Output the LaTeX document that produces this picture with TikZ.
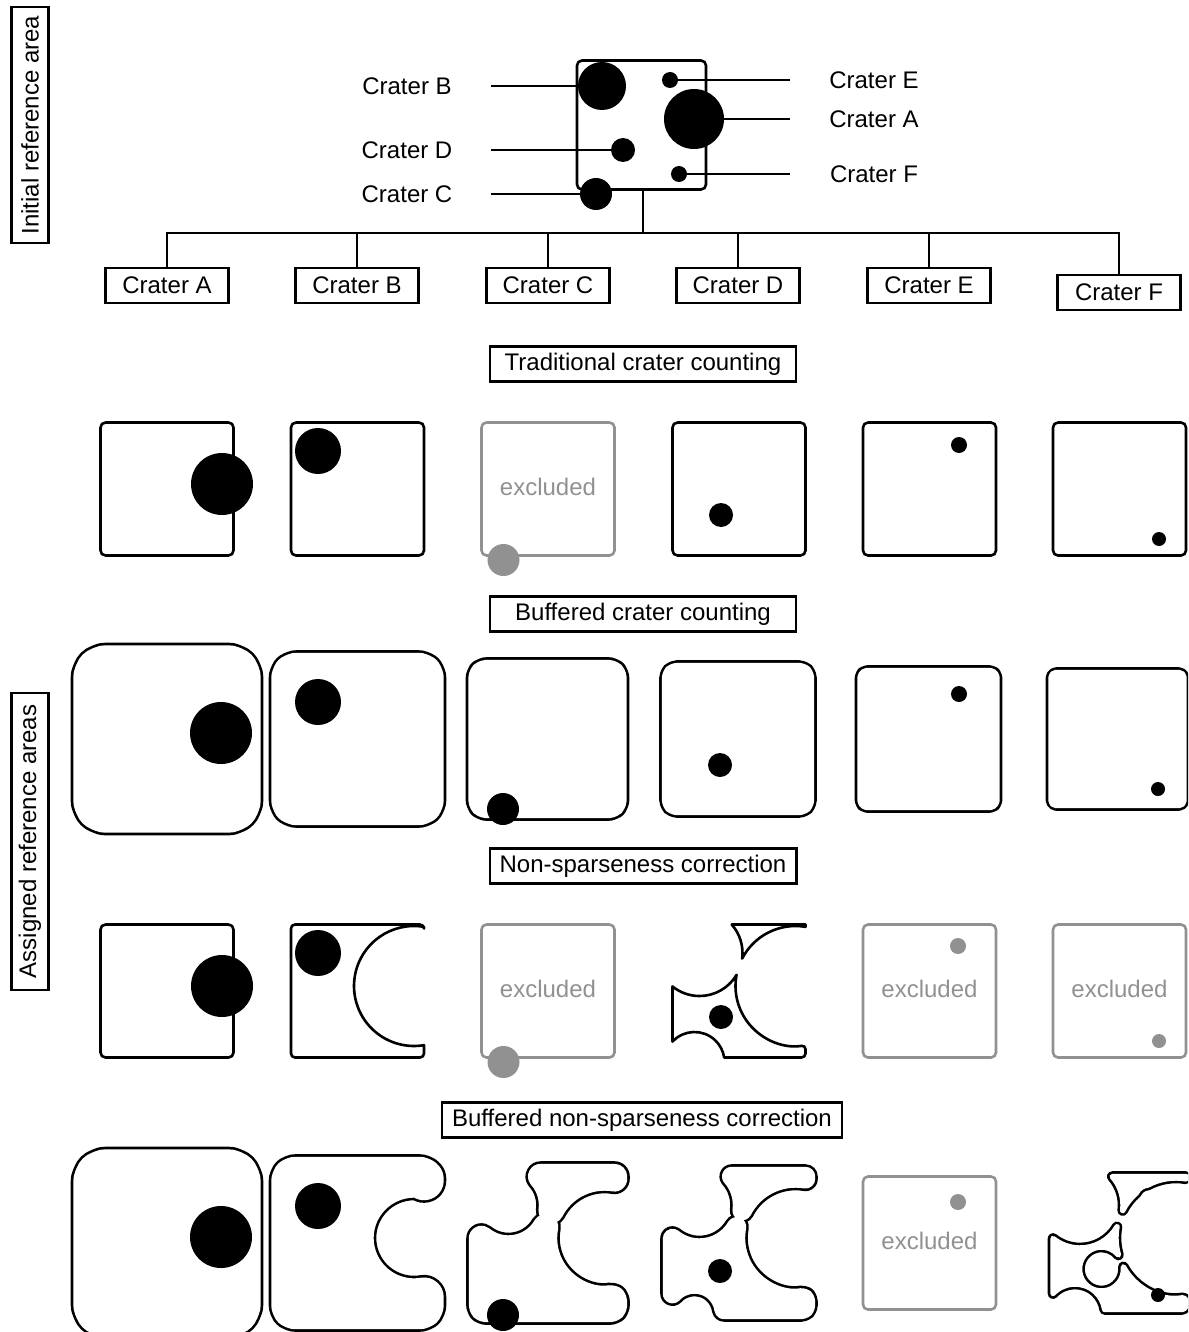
\documentclass[tikz,border=0pt]{standalone}
\usepackage{fontspec}
\setmainfont{Liberation Sans}
\usetikzlibrary{positioning,calc}
\definecolor{exgray}{RGB}{145,145,145}

% outlines of the assigned areas (square minus exclusion circles)
\def\pathB{(-66.5,0) [rounded corners=4] -- (-66.5,-66.5) -- (66.5,-66.5) [sharp corners] -- (66.5,-64.16) arc[start angle=-80.41,end angle=-279.59,radius=60] [rounded corners=4] -- (66.5,66.5) -- (-66.5,66.5) -- cycle}
\def\pathUp{(-7.3,-66.5) -- (66.5,-66.5) -- (66.5,-64.16) arc[start angle=-80.41,end angle=-152.8,radius=60] arc[start angle=7.44,end angle=-41.5,radius=43] -- cycle}
\def\pathUpE{(-7.3,-66.5) -- (66.5,-66.5) -- (66.5,-64.16) arc[start angle=-80.41,end angle=-118.1,radius=60] arc[start angle=-95.2,end angle=-154.2,radius=14] arc[start angle=-131.3,end angle=-152.8,radius=60] arc[start angle=7.44,end angle=-41.5,radius=43] -- cycle}
\def\pathLowC{(-66.5,-4.53) [rounded corners=4] -- (-66.5,66.5) -- (66.5,66.5) -- (66.5,54.16) [sharp corners] arc[start angle=80.41,end angle=190.73,radius=60] arc[start angle=30.5,end angle=128.9,radius=43] -- cycle}
\def\pathLowD{(-66.5,-4.53) -- (-66.5,50.6) arc[start angle=-137.16,end angle=-8.63,radius=30] [rounded corners=4] -- (66.5,66.5) -- (66.5,54.16) [sharp corners] arc[start angle=80.41,end angle=190.73,radius=60] arc[start angle=30.5,end angle=128.9,radius=43] -- cycle}
\def\pathLowF{(-66.5,-4.53) -- (-66.5,50.6) arc[start angle=-137.16,end angle=-8.63,radius=30] [rounded corners=4] -- (66.5,66.5) -- (66.5,54.16) [sharp corners] arc[start angle=80.41,end angle=151.3,radius=60] arc[start angle=-5.7,end angle=320.5,radius=22] arc[start angle=163.5,end angle=190.73,radius=60] arc[start angle=30.5,end angle=128.9,radius=43] -- cycle}

% outline of a shape grown by a buffer
\newcommand\bufring[2]{%
  \filldraw[line width=2*#1pt+2.6pt,line join=round] #2;
  \filldraw[white,line width=2*#1pt-2.6pt,line join=round] #2;
}
\newcommand\exsq[6]{%
  \draw[refsq,draw=exgray,rounded corners=5,shift={(#1,#2)}] (-66.5,-66.5) rectangle (66.5,66.5);
  \fill[exgray,shift={(#1,#2)}] (#3,#4) circle (#5);
  \node[lbl,text=exgray] (#6) at (#1,#2-2) {excluded};
}

\begin{document}
\begin{tikzpicture}[x=1pt,y=-1pt,
  lbl/.style={font=\fontsize{24}{28}\selectfont},
  namebox/.style={lbl,draw,line width=2.2pt,minimum width=123pt,minimum height=35pt,inner sep=0pt},
  titlebox/.style={lbl,draw,line width=2.2pt,minimum width=306pt,minimum height=35pt,inner xsep=10pt,inner ysep=0pt},
  sidebox/.style={lbl,draw,line width=2.2pt,rotate=90,minimum height=37pt,inner sep=0pt},
  crater/.style={circle,fill=black,inner sep=0pt},
  lead/.style={line width=1.6pt},
  refsq/.style={line width=2.6pt,line join=round}]
\useasboundingbox (0,0) rectangle (1188,1332);
\clip (0,0) rectangle (1188,1332);

\node[sidebox,minimum width=236pt] (sInit) at (30,125) {Initial reference area};
\node[sidebox,minimum width=297pt] (sAssign) at (30,841.5) {Assigned reference areas};

% initial reference area
\node[draw,refsq,rounded corners=5,minimum size=129pt,inner sep=0pt] (irb) at (641.5,125) {};
\node[lbl,minimum width=168pt] (lB) at (407,86) {Crater B};
\node[lbl,minimum width=168pt] (lD) at (407,150) {Crater D};
\node[lbl,minimum width=168pt] (lC) at (407,194) {Crater C};
\node[lbl,minimum width=168pt] (lE) at (874,80) {Crater E};
\node[lbl,minimum width=168pt] (lA) at (874,119) {Crater A};
\node[lbl,minimum width=168pt] (lF) at (874,174) {Crater F};
\coordinate (hB) at (602,86);
\coordinate (hE) at (670,80);
\coordinate (hA) at (694,119);
\coordinate (hD) at (623,150);
\coordinate (hF) at (679,174);
\coordinate (hC) at (596,194);
\foreach \s/\n in {lB/hB,lD/hD,lC/hC}
  \draw[lead] (\s.east) -- (\n);
\foreach \s/\n in {lE/hE,lA/hA,lF/hF}
  \draw[lead] (\s.west) -- (\n);
\node[crater,minimum size=48pt] (cB) at (hB) {};
\node[crater,minimum size=16pt] (cE) at (hE) {};
\node[crater,minimum size=60pt] (cA) at (hA) {};
\node[crater,minimum size=24pt] (cD) at (hD) {};
\node[crater,minimum size=16pt] (cF) at (hF) {};
\node[crater,minimum size=32pt] (cC) at (hC) {};

\coordinate (hub) at ([xshift=1.5pt,yshift=-42pt]irb.south);
\node[namebox] (nA) at (167,285.5) {Crater A};
\node[namebox] (nB) at (357,285.5) {Crater B};
\node[namebox] (nC) at (548,285.5) {Crater C};
\node[namebox] (nD) at (738,285.5) {Crater D};
\node[namebox] (nE) at (929,285.5) {Crater E};
\node[namebox] (nF) at (1119,292.5) {Crater F};
\draw[lead] (hub |- irb.south) -- (hub);
\foreach \n in {nA,nB,nC,nD,nE,nF}
  \draw[lead] (hub) -| (\n.north);

\node[titlebox] (t1) at (643,364) {Traditional crater counting};
\node[titlebox] (t2) at (643,614) {Buffered crater counting};
\node[titlebox] (t3) at (643,866) {Non-sparseness correction};
\node[titlebox] (t4) at (642,1120) {Buffered non-sparseness correction};

% traditional
\foreach \x/\cx/\cy/\rad in {167/55/-5/31,357.5/-39.5/-38/23,739/-18/26/12,929.5/29.5/-44/8,1119.5/39.5/50/7}{
  \draw[refsq,rounded corners=5,shift={(\x,489)}] (-66.5,-66.5) rectangle (66.5,66.5);
  \fill[shift={(\x,489)}] (\cx,\cy) circle (\rad);
}
\exsq{548}{489}{-44.5}{71}{16}{exTC}

% buffered
\foreach \x/\bw/\cx/\cy/\rad in {167/28.5/54/-6/31,357.5/21/-39.5/-37/23,547.5/14/-44.5/70/16,738/11/-18/26/12,928.5/6/30.5/-45/8,1117.5/4/40.5/50/7}{
  \begin{scope}[shift={(\x,739)},rounded corners=5]
    \bufring{\bw}{(-66.5,-66.5) rectangle (66.5,66.5)}
    \fill (\cx,\cy) circle (\rad);
  \end{scope}
}

% non-sparseness correction
\draw[refsq,rounded corners=5,shift={(167,991)}] (-66.5,-66.5) rectangle (66.5,66.5);
\fill[shift={(167,991)}] (55,-5) circle (31);
\begin{scope}[shift={(357.5,991)}]
  \draw[refsq] \pathB;
  \fill (-39.5,-38) circle (23);
\end{scope}
\exsq{548}{991}{-44.5}{71}{16}{exNC}
\begin{scope}[shift={(739,991)}]
  \draw[refsq] \pathUp \pathLowD;
  \fill (-18,26) circle (12);
\end{scope}
\exsq{929.5}{991}{28.5}{-45}{8}{exNE}
\exsq{1119.5}{991}{39.5}{50}{7}{exNF}

% buffered non-sparseness correction
\begin{scope}[shift={(167,1243)},rounded corners=5]
  \bufring{28.5}{(-66.5,-66.5) rectangle (66.5,66.5)}
  \fill (54,-6) circle (31);
\end{scope}
\begin{scope}[shift={(357.5,1243)}]
  \bufring{21}{\pathB}
  \fill (-39.5,-37) circle (23);
\end{scope}
\begin{scope}[shift={(548,1243)}]
  \bufring{14}{\pathUp \pathLowC}
  \fill (-45,72) circle (16);
\end{scope}
\begin{scope}[shift={(739,1243)}]
  \bufring{11}{\pathUp \pathLowD}
  \fill (-19,28) circle (12);
\end{scope}
\exsq{929.5}{1243}{28.5}{-41}{8}{exBE}
\begin{scope}[shift={(1119.5,1243)}]
  \bufring{4}{\pathUpE \pathLowF}
  \fill (38.5,52) circle (7);
\end{scope}
\end{tikzpicture}
\end{document}
